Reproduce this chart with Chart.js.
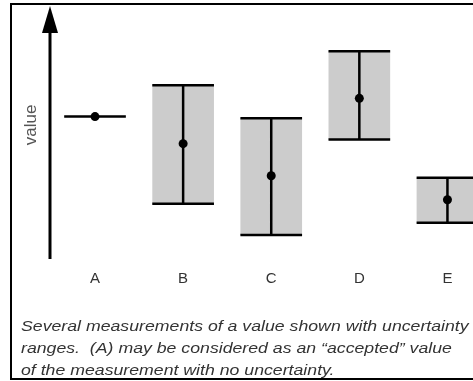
<!DOCTYPE html>
<html lang="en">
<head>
  <meta charset="UTF-8">
  <title>Measurements with uncertainty</title>
  <script src="https://cdn.jsdelivr.net/npm/chart.js"></script>
  <style>
    body { margin: 0; background: #fff; width: 473px; height: 381px; overflow: hidden; position: relative; font-family: "Liberation Sans", Arial, sans-serif; }
    #frame { position: absolute; left: 10px; top: 3px; width: 480px; height: 373px; border: 2px solid #000; }
    #wrap { position: absolute; left: 0; top: 0; width: 473px; height: 381px; }
    #caption { position: absolute; left: 21px; top: 315px; font-style: italic; font-size: 15px; line-height: 22px; color: #333; white-space: nowrap; transform: scaleX(1.18); transform-origin: left top; }
  </style>
</head>
<body>
<div id="frame"></div>
<div id="wrap"><canvas id="chart"></canvas></div>
<div id="caption">Several measurements of a value shown with uncertainty<br>ranges.&nbsp; (A) may be considered as an “accepted” value<br>of the measurement with no uncertainty.</div>
<script>
// measurements A..E (arbitrary value units, axis 0..10)
const labels = ['A', 'B', 'C', 'D', 'E'];
const positions = [1, 2, 3, 4, 5];
const values = [5.63, 4.56, 3.29, 6.35, 2.34];
const lows = [5.63, 2.18, 0.95, 4.72, 1.43];
const highs = [5.63, 6.87, 5.56, 8.21, 3.21];
const hasRange = [false, true, true, true, true];
const halfWidth = 0.35;

const boxData = positions.map((x, i) => hasRange[i] ? { x: x, y: [lows[i], highs[i]] } : { x: x, y: null });
const dotData = positions.map((x, i) => ({ x: x, y: values[i] }));

// caps and stems as one broken line
const whiskers = [];
positions.forEach((x, i) => {
  if (!hasRange[i]) {
    whiskers.push({ x: x - halfWidth, y: values[i] }, { x: x + halfWidth, y: values[i] }, { x: x, y: null });
    return;
  }
  whiskers.push({ x: x - halfWidth, y: highs[i] }, { x: x + halfWidth, y: highs[i] }, { x: x, y: null });
  whiskers.push({ x: x, y: highs[i] }, { x: x, y: lows[i] }, { x: x, y: null });
  whiskers.push({ x: x - halfWidth, y: lows[i] }, { x: x + halfWidth, y: lows[i] }, { x: x, y: null });
});

const arrowAxis = {
  id: 'arrowAxis',
  afterDatasetsDraw(chart) {
    const { ctx, chartArea, scales } = chart;
    const x0 = chartArea.left;
    const yBottom = scales.y.getPixelForValue(0);
    const yTop = scales.y.getPixelForValue(10);
    ctx.save();
    ctx.strokeStyle = '#000';
    ctx.lineWidth = 3;
    ctx.beginPath();
    ctx.moveTo(x0, yBottom);
    ctx.lineTo(x0, yTop + 20);
    ctx.stroke();
    ctx.fillStyle = '#000';
    ctx.beginPath();
    ctx.moveTo(x0, yTop);
    ctx.lineTo(x0 - 8, yTop + 27);
    ctx.lineTo(x0 + 8, yTop + 27);
    ctx.closePath();
    ctx.fill();
    // axis title
    ctx.translate(x0 - 19, scales.y.getPixelForValue(5.3));
    ctx.rotate(-Math.PI / 2);
    ctx.font = '17px "Liberation Sans", Arial, sans-serif';
    ctx.fillStyle = '#555';
    ctx.textAlign = 'center';
    ctx.textBaseline = 'middle';
    ctx.fillText('value', 0, 0);
    ctx.restore();
  }
};

new Chart(document.getElementById('chart'), {
  type: 'bar',
  data: {
    datasets: [
      { type: 'line', data: dotData, showLine: false, pointRadius: 4.5, pointHoverRadius: 4.5, pointBackgroundColor: '#000', pointBorderWidth: 0, order: 0, clip: false },
      { type: 'line', data: whiskers, spanGaps: false, borderColor: '#000', borderWidth: 2.5, pointRadius: 0, tension: 0, order: 1, clip: false },
      { type: 'bar', data: boxData, backgroundColor: '#cccccc', borderWidth: 0, barThickness: 61, order: 2, clip: false }
    ]
  },
  options: {
    responsive: true,
    maintainAspectRatio: false,
    animation: false,
    events: [],
    layout: { padding: { left: 50, top: 6, right: 0, bottom: 82 } },
    plugins: { legend: { display: false }, tooltip: { enabled: false } },
    scales: {
      x: {
        type: 'linear',
        offset: false,
        min: 0.489,
        max: 5.239,
        grid: { display: false, drawTicks: false },
        border: { display: false },
        afterBuildTicks: s => { s.ticks = positions.map(v => ({ value: v })); },
        ticks: {
          padding: 11,
          color: '#333',
          font: { size: 15, family: '"Liberation Sans", Arial, sans-serif' },
          callback: v => labels[positions.indexOf(v)] || ''
        }
      },
      y: { display: false, min: 0, max: 10 }
    }
  },
  plugins: [arrowAxis]
});
</script>
</body>
</html>
